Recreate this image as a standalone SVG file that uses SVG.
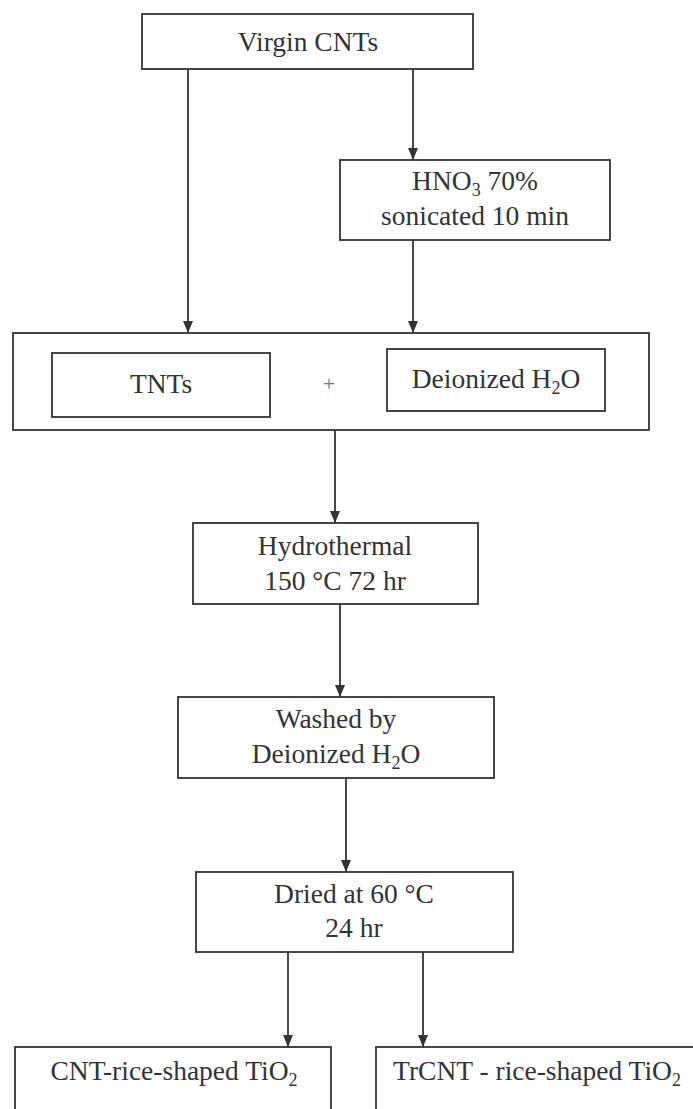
<svg xmlns="http://www.w3.org/2000/svg" width="693" height="1109" viewBox="0 0 693 1109">
<defs>
<style>
.box{fill:none;stroke:#333;stroke-width:1.8}
.t{font-family:"Liberation Serif","Times New Roman",serif;font-size:27.5px;fill:#333;text-anchor:middle}
.s{font-size:18px}
.edge{stroke:#333;stroke-width:1.8;fill:none;marker-end:url(#ah)}
</style>
<marker id="ah" markerUnits="userSpaceOnUse" markerWidth="12" markerHeight="10" refX="12" refY="5" orient="auto">
<path d="M0,0 L12,5 L0,10 z" fill="#333"/>
</marker>
</defs>
<rect width="693" height="1109" fill="#fff"/>
<g id="connectors">
<line class="edge" x1="188" y1="69" x2="188" y2="333"/>
<line class="edge" x1="413" y1="69" x2="413" y2="160"/>
<line class="edge" x1="413" y1="240" x2="413" y2="333"/>
<line class="edge" x1="335" y1="430" x2="335" y2="523"/>
<line class="edge" x1="340" y1="604" x2="340" y2="697"/>
<line class="edge" x1="346" y1="778" x2="346" y2="872"/>
<line class="edge" x1="288" y1="952" x2="288" y2="1047"/>
<line class="edge" x1="423" y1="952" x2="423" y2="1047"/>
</g>
<g id="virgin">
<rect class="box" x="142" y="14" width="331" height="55"/>
<text class="t" x="308" y="51">Virgin CNTs</text>
</g>
<g id="hno3">
<rect class="box" x="340" y="160" width="270" height="80"/>
<text class="t" x="475" y="190">HNO<tspan class="s" dy="6">3</tspan><tspan dy="-6"> 70%</tspan></text>
<text class="t" x="475" y="225">sonicated 10 min</text>
</g>
<g id="mix">
<rect class="box" x="13" y="333" width="636" height="97"/>
</g>
<g id="tnts">
<rect class="box" x="52" y="353" width="218" height="64"/>
<text class="t" x="161" y="393">TNTs</text>
</g>
<g id="plus">
<text class="t" x="329" y="391" style="font-size:22px;fill:#777">+</text>
</g>
<g id="water">
<rect class="box" x="387" y="349" width="218" height="62"/>
<text class="t" x="496" y="388">Deionized H<tspan class="s" dy="6">2</tspan><tspan dy="-6">O</tspan></text>
</g>
<g id="hydrothermal">
<rect class="box" x="193" y="523" width="285" height="81"/>
<text class="t" x="335" y="555">Hydrothermal</text>
<text class="t" x="335" y="590">150 °C 72 hr</text>
</g>
<g id="washed">
<rect class="box" x="178" y="697" width="316" height="81"/>
<text class="t" x="336" y="728">Washed by</text>
<text class="t" x="336" y="763">Deionized H<tspan class="s" dy="6">2</tspan><tspan dy="-6">O</tspan></text>
</g>
<g id="dried">
<rect class="box" x="196" y="872" width="317" height="80"/>
<text class="t" x="354" y="903">Dried at 60 °C</text>
<text class="t" x="354" y="937">24 hr</text>
</g>
<g id="cnt-rice">
<rect class="box" x="15" y="1047" width="316" height="80"/>
<text class="t" x="174" y="1080">CNT-rice-shaped TiO<tspan class="s" dy="6">2</tspan></text>
</g>
<g id="trcnt-rice">
<rect class="box" x="376" y="1047" width="322" height="80"/>
<text class="t" x="537" y="1080">TrCNT - rice-shaped TiO<tspan class="s" dy="6">2</tspan></text>
</g>
</svg>
